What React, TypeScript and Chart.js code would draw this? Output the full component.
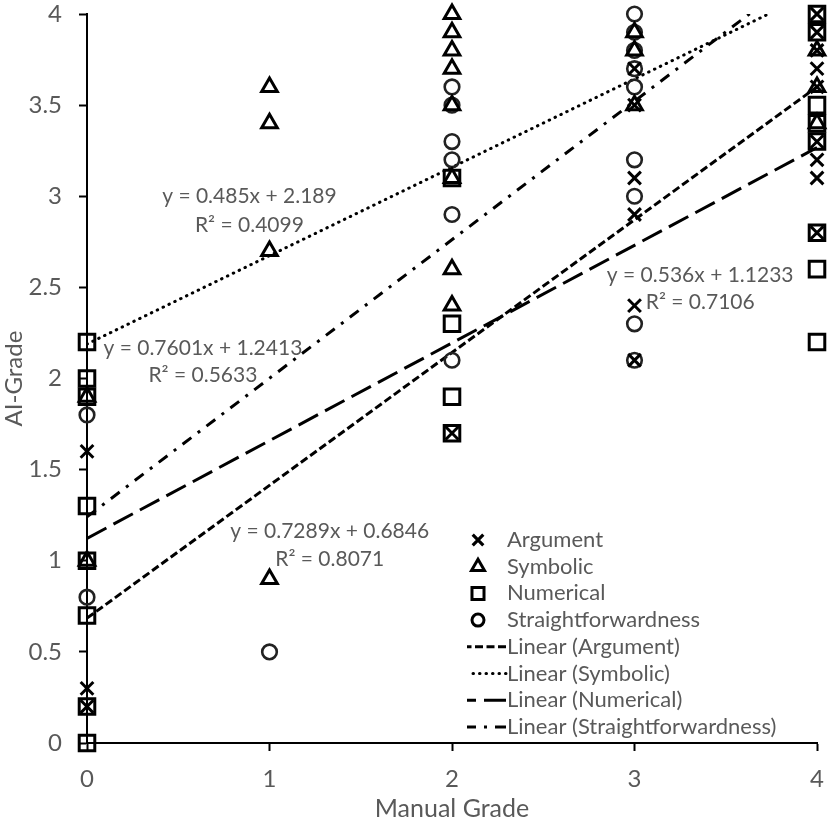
import { useEffect, useRef } from 'react';
import { Chart, registerables } from 'chart.js';

Chart.register(...registerables);

// Manual grade (x) and AI grade (y) for every response, per question type
const argumentManual = [0, 0, 0, 2, 3, 3, 3, 3, 3, 3, 4, 4, 4, 4, 4, 4, 4, 4, 4];
const argumentAI = [1.6, 0.3, 0.2, 1.7, 3.7, 3.5, 3.1, 2.9, 2.4, 2.1, 4.0, 3.9, 3.8, 3.7, 3.6, 3.3, 3.2, 3.1, 2.8];

const symbolicManual = [0, 0, 1, 1, 1, 1, 2, 2, 2, 2, 2, 2, 2, 2, 3, 3, 3, 4, 4, 4];
const symbolicAI = [1.9, 1.0, 3.6, 3.4, 2.7, 0.9, 4.0, 3.9, 3.8, 3.7, 3.5, 3.1, 2.6, 2.4, 3.9, 3.8, 3.5, 3.8, 3.6, 3.4];

const numericalManual = [0, 0, 0, 0, 0, 0, 0, 0, 2, 2, 2, 2, 4, 4, 4, 4, 4, 4, 4, 4];
const numericalAI = [2.2, 2.0, 1.9, 1.3, 1.0, 0.7, 0.2, 0.0, 3.1, 2.3, 1.9, 1.7, 4.0, 3.9, 3.5, 3.4, 3.3, 2.8, 2.6, 2.2];

const straightManual = [0, 0, 1, 2, 2, 2, 2, 2, 2, 3, 3, 3, 3, 3, 3, 3, 3, 3];
const straightAI = [1.8, 0.8, 0.5, 3.6, 3.5, 3.3, 3.2, 2.9, 2.1, 4.0, 3.9, 3.8, 3.7, 3.6, 3.2, 3.0, 2.3, 2.1];

// linear trend lines, value at manual grade 0 and 4
const trendManual = [0, 4];
const argumentTrend = [0.685, 3.6];
const symbolicTrend = [2.189, 4.129];
const numericalTrend = [1.123, 3.267];
const straightTrend = [1.241, 4.282];

const seriesNames = ['Argument', 'Symbolic', 'Numerical', 'Straightforwardness'];
const equations = ['y = 0.7289x + 0.6846', 'y = 0.485x + 2.189', 'y = 0.536x + 1.1233', 'y = 0.7601x + 1.2413'];
const rSquared = ['R² = 0.8071', 'R² = 0.4099', 'R² = 0.7106', 'R² = 0.5633'];

const GRAY = '#595959';
const FONT = 'Lato';

const markerStyles = [
  { pointStyle: 'crossRot', radius: 9, width: 3, color: '#000', legendR: 7.5, legendW: 3.2 },
  { pointStyle: 'triangle', radius: 9, width: 3, color: '#000', legendR: 7.5, legendW: 3 },
  { pointStyle: 'rect', radius: 11, width: 3, color: '#000', legendR: 8.5, legendW: 3 },
  { pointStyle: 'circle', radius: 7.3, width: 2.6, color: '#222', legendR: 6, legendW: 3 },
];
const lineDashes = [[8, 3.5], [0.5, 6], [22, 8], [11, 8, 3, 8]];
const lineCaps = ['butt', 'round', 'butt', 'butt'];

// where the equation labels sit, in data units
const labelPos = [
  { x: 1.33, y: 1.16, y2: 1.01 },
  { x: 0.89, y: 3.0, y2: 2.84 },
  { x: 3.36, y: 2.565, y2: 2.42 },
  { x: 0.635, y: 2.166, y2: 2.02 },
];

function toPoints(xs: number[], ys: number[]) {
  return xs.map((x, i) => ({ x, y: ys[i] }));
}

function drawMarker(ctx: CanvasRenderingContext2D, style: string, x: number, y: number, r: number) {
  ctx.beginPath();
  if (style === 'crossRot') {
    const d = r * Math.SQRT1_2;
    ctx.moveTo(x - d, y - d);
    ctx.lineTo(x + d, y + d);
    ctx.moveTo(x + d, y - d);
    ctx.lineTo(x - d, y + d);
  } else if (style === 'triangle') {
    ctx.moveTo(x, y - r);
    ctx.lineTo(x + r * 0.866, y + r / 2);
    ctx.lineTo(x - r * 0.866, y + r / 2);
    ctx.closePath();
  } else if (style === 'rect') {
    const h = r * Math.SQRT1_2;
    ctx.rect(x - h, y - h, 2 * h, 2 * h);
  } else {
    ctx.arc(x, y, r, 0, Math.PI * 2);
  }
  ctx.stroke();
}

const annotations = {
  id: 'trendAnnotations',
  afterDatasetsDraw(chart: any) {
    const { ctx } = chart;
    const xs = chart.scales.x;
    const ys = chart.scales.y;
    ctx.save();
    ctx.fillStyle = GRAY;
    ctx.textAlign = 'center';
    ctx.textBaseline = 'middle';
    ctx.font = `21px ${FONT}`;
    labelPos.forEach((p, i) => {
      const px = xs.getPixelForValue(p.x);
      ctx.fillText(equations[i], px, ys.getPixelForValue(p.y));
      ctx.fillText(rSquared[i], px, ys.getPixelForValue(p.y2));
    });

    // legend
    const textX = 507;
    const markX = 478;
    const rowTop = 540;
    const rowGap = 26.7;
    ctx.textAlign = 'left';
    ctx.font = `22px ${FONT}`;
    seriesNames.forEach((name, i) => {
      const y = rowTop + i * rowGap;
      const m = markerStyles[i];
      ctx.strokeStyle = '#000';
      ctx.lineWidth = m.legendW;
      ctx.setLineDash([]);
      drawMarker(ctx, m.pointStyle, markX, y, m.legendR);
      ctx.fillText(name, textX, y);
    });
    seriesNames.forEach((name, i) => {
      const y = rowTop + (i + 4) * rowGap;
      ctx.strokeStyle = '#000';
      ctx.lineWidth = 3;
      ctx.lineCap = lineCaps[i];
      ctx.setLineDash(lineDashes[i]);
      ctx.beginPath();
      ctx.moveTo(506, y);
      ctx.lineTo(467, y);
      ctx.stroke();
      ctx.setLineDash([]);
      ctx.fillText(`Linear (${name})`, textX, y);
    });
    ctx.restore();
  },
};

export default function App() {
  const canvasRef = useRef<HTMLCanvasElement>(null);
  const chartRef = useRef<Chart | null>(null);

  useEffect(() => {
    document.body.style.margin = '0';
    if (!canvasRef.current) return;
    if (chartRef.current) chartRef.current.destroy();

    const scatterSets = [
      toPoints(argumentManual, argumentAI),
      toPoints(symbolicManual, symbolicAI),
      toPoints(numericalManual, numericalAI),
      toPoints(straightManual, straightAI),
    ];
    const trendSets = [argumentTrend, symbolicTrend, numericalTrend, straightTrend].map(t =>
      toPoints(trendManual, t)
    );

    const datasets: any[] = [];
    seriesNames.forEach((name, i) => {
      const m = markerStyles[i];
      datasets.push({
        label: name,
        data: scatterSets[i],
        pointStyle: m.pointStyle,
        pointRadius: m.radius,
        pointHoverRadius: m.radius,
        pointBorderWidth: m.width,
        pointBorderColor: m.color,
        pointBackgroundColor: 'rgba(0,0,0,0)',
        showLine: false,
        clip: false,
      });
    });
    seriesNames.forEach((name, i) => {
      datasets.push({
        label: `Linear (${name})`,
        data: trendSets[i],
        showLine: true,
        pointRadius: 0,
        pointHoverRadius: 0,
        borderColor: '#000',
        borderWidth: 3,
        borderDash: lineDashes[i],
        borderCapStyle: lineCaps[i],
        fill: false,
      });
    });

    const tickText = (v: any) => String(v);

    chartRef.current = new Chart(canvasRef.current, {
      type: 'scatter',
      data: { datasets },
      options: {
        responsive: false,
        animation: false,
        layout: { padding: { left: 0, top: 10, right: 12, bottom: 0 } },
        plugins: {
          legend: { display: false },
          tooltip: { enabled: false },
        },
        scales: {
          x: {
            type: 'linear',
            min: 0,
            max: 4,
            ticks: { stepSize: 1, color: GRAY, font: { family: FONT, size: 24 }, padding: 14, callback: tickText },
            grid: { drawOnChartArea: false, drawTicks: true, tickLength: 8, tickWidth: 2, tickColor: '#000' },
            border: { color: '#000', width: 2 },
            title: {
              display: true,
              text: 'Manual Grade',
              color: GRAY,
              font: { family: FONT, size: 25, lineHeight: 0.8 },
              padding: 0,
            },
            afterFit(s: any) {
              s.height = 76;
              s.paddingLeft = 0;
              s.paddingRight = 0;
            },
          },
          y: {
            type: 'linear',
            min: 0,
            max: 4,
            ticks: { stepSize: 0.5, color: GRAY, font: { family: FONT, size: 24 }, padding: 17, callback: tickText },
            grid: { drawOnChartArea: false, drawTicks: true, tickLength: 8, tickWidth: 2, tickColor: '#000' },
            border: { color: '#000', width: 2 },
            title: {
              display: true,
              text: 'AI-Grade',
              color: GRAY,
              font: { family: FONT, size: 24, lineHeight: 1 },
              padding: { top: 2, bottom: 0 },
            },
            afterFit(s: any) {
              s.width = 87;
              s.paddingTop = 0;
              s.paddingBottom = 0;
            },
          },
        },
      },
      plugins: [annotations],
    });

    return () => {
      if (chartRef.current) {
        chartRef.current.destroy();
        chartRef.current = null;
      }
    };
  }, []);

  return <canvas ref={canvasRef} width={831} height={819} style={{ display: 'block' }} />;
}
